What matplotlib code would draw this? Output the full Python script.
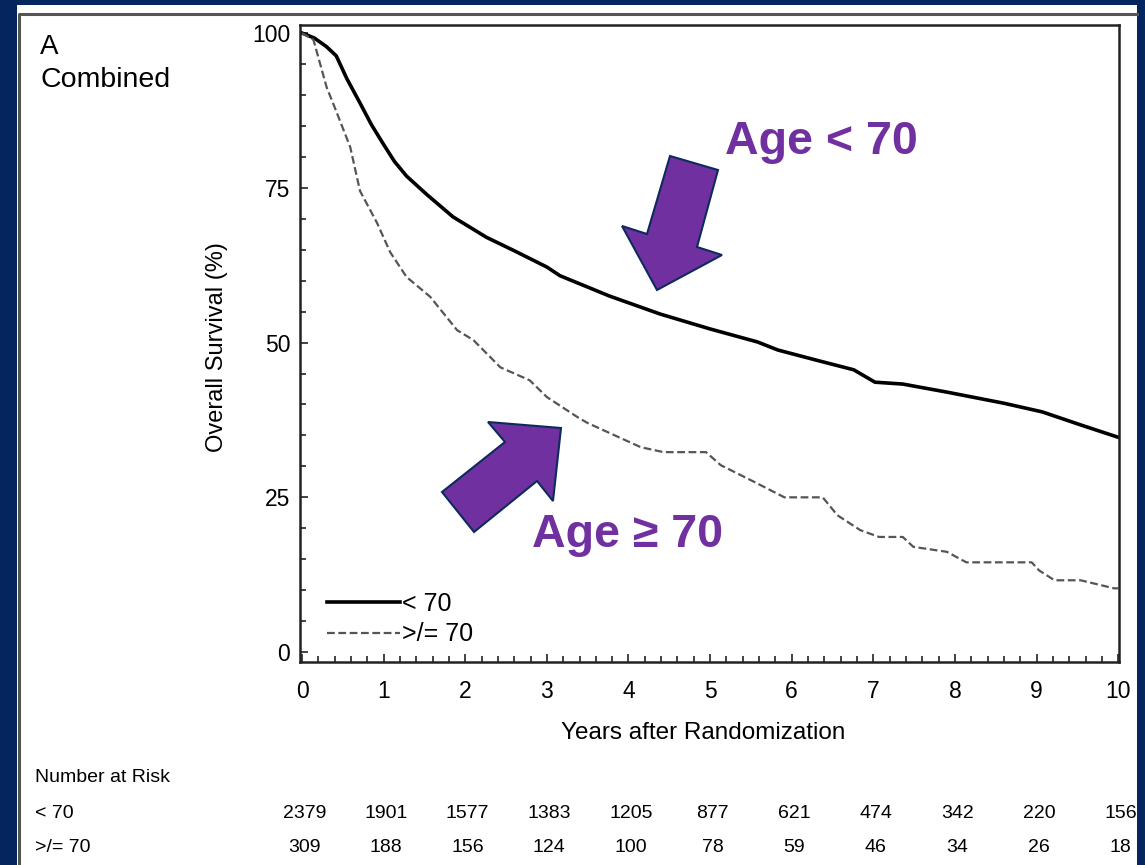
import matplotlib
matplotlib.use("Agg")
import matplotlib.pyplot as plt
from matplotlib.patches import Polygon, Rectangle
from matplotlib.lines import Line2D
from matplotlib.ticker import MultipleLocator
import matplotlib.transforms as mtransforms

plt.rcParams['font.family'] = ['Liberation Sans', 'DejaVu Sans']

# ---------------- data ----------------
t_young = [0, 0.15, 0.3, 0.42, 0.55, 0.71, 0.85, 0.99, 1.13, 1.28, 1.53, 1.85, 2.26, 2.59, 3.0, 3.16,
           3.77, 4.39, 5.0, 5.58, 5.83, 6.29, 6.76, 7.02, 7.36, 7.9, 8.6, 9.07, 9.54, 10.0]
s_young = [100, 99.2, 97.8, 96.3, 92.6, 88.7, 85.2, 82.2, 79.3, 76.9, 73.9, 70.3, 67.0, 64.9, 62.2, 60.8,
           57.5, 54.6, 52.2, 50.1, 48.8, 47.2, 45.6, 43.6, 43.3, 42.0, 40.2, 38.8, 36.7, 34.7]

t_old = [0, 0.14, 0.3, 0.4, 0.59, 0.71, 0.92, 1.08, 1.28, 1.57, 1.9, 2.1, 2.43, 2.79, 3.0,
         3.37, 3.5, 4.15, 4.43, 4.95, 5.13, 5.54, 5.91, 6.38, 6.56, 6.84, 7.07, 7.36, 7.49,
         7.9, 8.14, 8.94, 9.03, 9.22, 9.54, 9.95, 10.0]
s_old = [100, 98.9, 91.3, 88.0, 81.6, 74.5, 69.3, 64.6, 60.6, 57.4, 52.0, 50.4, 46.0, 43.9, 41.2,
         38.0, 37.0, 33.1, 32.3, 32.3, 30.2, 27.5, 25.0, 25.0, 22.1, 19.7, 18.6, 18.6, 17.0,
         16.2, 14.5, 14.5, 13.2, 11.6, 11.6, 10.3, 10.3]

risk_times = [0, 1, 2, 3, 4, 5, 6, 7, 8, 9, 10]
risk_young = [2379, 1901, 1577, 1383, 1205, 877, 621, 474, 342, 220, 156]
risk_old = [309, 188, 156, 124, 100, 78, 59, 46, 34, 26, 18]

group_labels = ['< 70', '>/= 70']
x_ticks = [0, 1, 2, 3, 4, 5, 6, 7, 8, 9, 10]
y_ticks = [0, 25, 50, 75, 100]

# ---------------- figure ----------------
W, H = 1145, 865
fig = plt.figure(figsize=(W / 100, H / 100), dpi=100)
fig.patch.set_facecolor('#05255f')

def fx(x):
    return x / W

def fy(y):
    return 1 - y / H

# white panel + thin frame
fig.patches.append(Rectangle((fx(17), 0), fx(1137) - fx(17), fy(5), transform=fig.transFigure,
                             facecolor='white', edgecolor='none', zorder=-2))
fig.lines.append(Line2D([fx(19), fx(19), fx(1137)], [0, fy(14), fy(14)], transform=fig.transFigure,
                        color='#555555', lw=2.2, zorder=-1))

ax = fig.add_axes([fx(300), fy(662), fx(1119) - fx(300), fy(25) - fy(662)])
ax.set_facecolor('white')

ax.plot(t_young, s_young, color='black', lw=2.6, label=group_labels[0])
ax.plot(t_old, s_old, color='#555555', lw=1.6, linestyle=(0, (3.5, 1.6)), label=group_labels[1])

ax.set_xlim(-0.025, 10.01)
ax.set_ylim(-1.6, 101.3)
ax.set_xticks(x_ticks)
ax.set_yticks(y_ticks)
ax.xaxis.set_minor_locator(MultipleLocator(0.2))
ax.yaxis.set_minor_locator(MultipleLocator(5))
ax.tick_params(which='major', direction='in', length=6, width=1.2, labelsize=16.5, color='#222222')
ax.tick_params(which='minor', direction='in', length=4, width=1.2, color='#222222')
ax.tick_params(axis='x', which='major', pad=13)
ax.tick_params(axis='y', which='major', pad=7)
for sp in ax.spines.values():
    sp.set_linewidth(1.8)
    sp.set_color('#222222')

leg = ax.legend(loc='upper left', bbox_to_anchor=((327 - 300) / 819, (662 - 592) / 637),
                frameon=False, fontsize=18, handlelength=2.9, handletextpad=0.1,
                borderpad=0, borderaxespad=0, labelspacing=0.25)

# axis labels
fig.text(fx(703), fy(733), 'Years after Randomization', ha='center', va='center', fontsize=17.5)
fig.text(fx(217), fy(347), 'Overall Survival (%)', ha='center', va='center', rotation=90, fontsize=17)

# panel title
fig.text(fx(40), fy(47), 'A', ha='left', va='center', fontsize=20)
fig.text(fx(40), fy(80), 'Combined', ha='left', va='center', fontsize=20.5)

# number at risk table
tfont = dict(fontsize=14)
fig.text(fx(35), fy(778), 'Number at Risk', ha='left', va='center', **tfont)
fig.text(fx(35), fy(813), group_labels[0], ha='left', va='center', **tfont)
fig.text(fx(35), fy(848), group_labels[1], ha='left', va='center', **tfont)
trans = mtransforms.blended_transform_factory(ax.transData, fig.transFigure)
for t, a, b in zip(risk_times, risk_young, risk_old):
    ax.text(t + 0.03, fy(813), str(a), transform=trans, ha='center', va='center', clip_on=False, **tfont)
    ax.text(t + 0.03, fy(848), str(b), transform=trans, ha='center', va='center', clip_on=False, **tfont)

# annotation arrows
purple = '#7030a0'
arrow1 = [(670, 156), (718, 170), (697, 247), (722, 255), (657, 290), (622, 226), (647, 234)]
arrow2 = [(561, 428), (488, 422), (505, 442), (442, 492), (474, 532), (537, 481), (553, 501)]
for pts in (arrow1, arrow2):
    fig.patches.append(Polygon([(fx(x), fy(y)) for x, y in pts], closed=True, transform=fig.transFigure,
                               facecolor=purple, edgecolor='#0d2a5e', lw=1.5, zorder=5))

fig.text(fx(821), fy(142), 'Age < 70', ha='center', va='center', fontsize=33.5,
         fontweight='bold', color=purple, zorder=6)
fig.text(fx(628), fy(535), 'Age ≥ 70', ha='center', va='center', fontsize=33.5,
         fontweight='bold', color=purple, zorder=6)

fig.savefig('out.png', dpi=100, facecolor=fig.get_facecolor())
